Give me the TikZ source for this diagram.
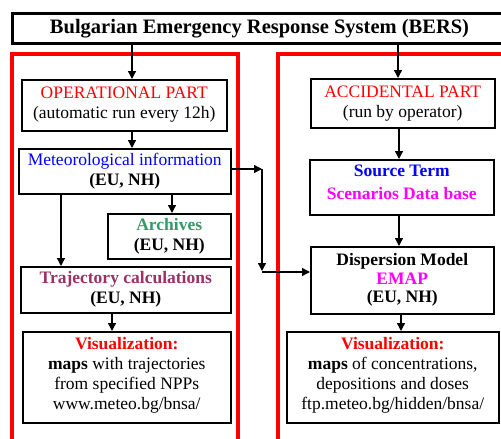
\documentclass[tikz,border=0pt]{standalone}
\usepackage{fontspec}
\setmainfont{Liberation Serif}
\usetikzlibrary{arrows.meta,calc}
\definecolor{redf}{HTML}{FF0000}
\definecolor{bluef}{HTML}{0000FF}
\definecolor{greenf}{HTML}{339966}
\definecolor{maroonf}{HTML}{993366}
\definecolor{magf}{HTML}{FF00FF}
\newcommand{\bdrop}[1]{\rule[-#1pt]{0pt}{0pt}}
\tikzset{
  box/.style={draw=black, line width=1.5pt, fill=white, anchor=north west, align=center, inner sep=0pt,
    font=\fontsize{17.5}{20}\selectfont},
  redframe/.style={draw=redf, line width=3.5pt},
  arr/.style={draw=black, line width=1.3pt, -{Triangle[length=8pt,width=8pt]}},
}
\begin{document}
\begin{tikzpicture}[x=1pt,y=-1pt]
\useasboundingbox (0,0) rectangle (501,439);
\begin{scope}
\clip (0,0) rectangle (501,439);
% red frames
\draw[redframe] (12,54) rectangle (238,460);
\draw[redframe] (278,54) rectangle (520,460);
% title
\node[box, line width=3pt, minimum width=500pt, minimum height=30pt, font=\fontsize{20.5}{24}\selectfont\bfseries] (title) at (11,12) {\hspace*{-6pt}Bulgarian Emergency Response System (BERS)};
% left column
\node[box, minimum width=205pt, minimum height=51pt] (op) at (21,79)
  {\textcolor{redf}{OPERATIONAL PART}\\(automatic run every 12h)\bdrop{6}};
\node[box, minimum width=212pt, minimum height=45pt] (met) at (18,148)
  {\textcolor{bluef}{Meteorological information}\\\textbf{(EU, NH)}};
\node[box, minimum width=123pt, minimum height=45pt] (arch) at (107,213)
  {\textcolor{greenf}{\textbf{Archives}}\\\textbf{(EU, NH)}};
\node[box, minimum width=210pt, minimum height=46pt] (traj) at (20,266)
  {\textcolor{maroonf}{\textbf{Trajectory calculations}}\\\textbf{(EU, NH)}};
\node[box, minimum width=208pt, minimum height=91pt] (visl) at (22,331)
  {\textcolor{redf}{\textbf{Visualization:}}\\\textbf{maps} with trajectories\\from specified NPPs\\www.meteo.bg/bnsa/\bdrop{8}};
% right column
\node[box, minimum width=184pt, minimum height=49pt] (acc) at (310,78)
  {\textcolor{redf}{ACCIDENTAL PART}\\(run by operator)\bdrop{4}};
\node[box, minimum width=184pt, minimum height=55pt] (src) at (309,159)
  {\textcolor{bluef}{\textbf{Source Term}}\\[3pt]\textcolor{magf}{\textbf{Scenarios Data base}}\bdrop{10}};
\node[box, minimum width=183pt, minimum height=67pt, font=\fontsize{17.5}{18.5}\selectfont] (disp) at (310,246)
  {\textbf{Dispersion Model}\\\textcolor{magf}{\textbf{EMAP}}\\\textbf{(EU, NH)}\bdrop{3}};
\node[box, minimum width=212pt, minimum height=91pt] (visr) at (286,331)
  {\textcolor{redf}{\textbf{Visualization:}}\\\textbf{maps} of concentrations,\\depositions and doses\\ftp.meteo.bg/hidden/bnsa/\bdrop{8}};
% x positions of connectors
\coordinate (xa) at (132,0);
\coordinate (xb) at (398,0);
\coordinate (xc) at (172,0);
\coordinate (xd) at (61,0);
\coordinate (xe) at (112,0);
\coordinate (xf) at (399,0);
\coordinate (xg) at (401,0);
\coordinate (ya) at (0,169);
\coordinate (yb) at (0,272);
\coordinate (j1) at (262,169);
\coordinate (j2) at (262,271);
\coordinate (j3) at (262,272);
% connectors
\draw[arr] (title.south -| xa) -- (op.north -| xa);
\draw[arr] (title.south -| xb) -- (acc.north -| xb);
\draw[arr] (op.south -| xa) -- (met.north -| xa);
\draw[arr] (met.south -| xc) -- (arch.north -| xc);
\draw[arr] (met.south -| xd) -- (traj.north -| xd);
\draw[arr] (traj.south -| xe) -- (visl.north -| xe);
\draw[arr] (acc.south -| xf) -- (src.north -| xf);
\draw[arr] (src.south -| xf) -- (disp.north -| xf);
\draw[arr] (disp.south -| xg) -- (visr.north -| xg);
\draw[arr] (met.east |- ya) -- (j1);
\draw[arr] (j1) -- (j2);
\draw[arr] (j3) -- (disp.west |- yb);
\end{scope}
\end{tikzpicture}
\end{document}
